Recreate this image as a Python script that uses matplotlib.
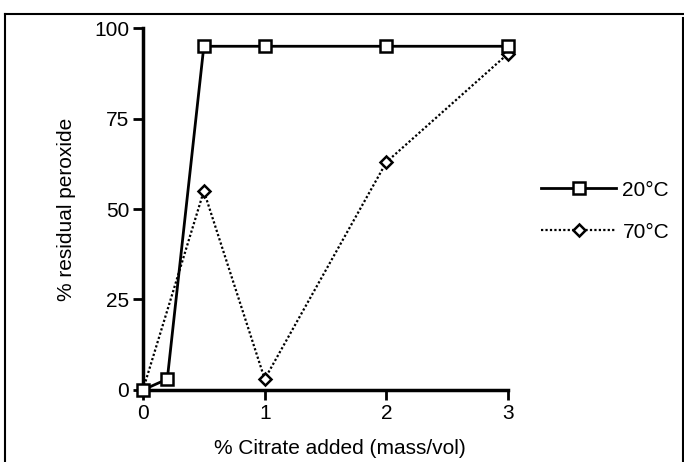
import matplotlib.pyplot as plt
from matplotlib.lines import Line2D

plt.rcParams['font.family'] = ['Liberation Sans', 'DejaVu Sans']

# citrate added (% mass/vol) and residual peroxide (%)
citrate_20 = [0, 0.2, 0.5, 1, 2, 3]
peroxide_20 = [0, 3, 95, 95, 95, 95]
citrate_70 = [0, 0.5, 1, 2, 3]
peroxide_70 = [0, 55, 3, 63, 93]
xticks = [0, 1, 2, 3]
yticks = [0, 25, 50, 75, 100]

fig = plt.figure(figsize=(6.84, 4.62), dpi=100)
ax = fig.add_axes([0.209, 0.156, 0.534, 0.783])

ax.plot(citrate_20, peroxide_20, color='black', lw=2, marker='s', ms=9,
        mfc='white', mec='black', mew=1.8, clip_on=False, zorder=4, label='20°C')
ax.plot(citrate_70, peroxide_70, color='black', lw=1.6, ls=(0, (1, 1)), marker='D', ms=6.5,
        mfc='white', mec='black', mew=1.8, clip_on=False, zorder=3, label='70°C')

ax.set_xlim(0, 3)
ax.set_ylim(0, 100)
ax.set_xticks(xticks)
ax.set_yticks(yticks)
for s in ['top', 'right']:
    ax.spines[s].set_visible(False)
for s in ['left', 'bottom']:
    ax.spines[s].set_linewidth(2.5)
ax.tick_params(width=2, length=7, labelsize=15, pad=3)
ax.set_xlabel('% Citrate added (mass/vol)', fontsize=15)
ax.set_ylabel('% residual peroxide', fontsize=15)
ax.xaxis.set_label_coords(0.54, -0.135)
ax.yaxis.set_label_coords(-0.184, 0.5)

ax.legend(loc='center left', bbox_to_anchor=(1.039, 0.494), frameon=False, fontsize=15,
          handlelength=3.6, labelspacing=1.1, handletextpad=0.3)

# scanned page frame
fig.add_artist(Line2D([0.008, 0.008], [0.0, 0.97], color='black', lw=1.5, transform=fig.transFigure))
fig.add_artist(Line2D([0.008, 1.0], [0.97, 0.97], color='black', lw=1.5, transform=fig.transFigure))
fig.add_artist(Line2D([0.998, 0.998], [0.0, 0.96], color='black', lw=1.5, transform=fig.transFigure))

fig.savefig('out.png', dpi=100)
